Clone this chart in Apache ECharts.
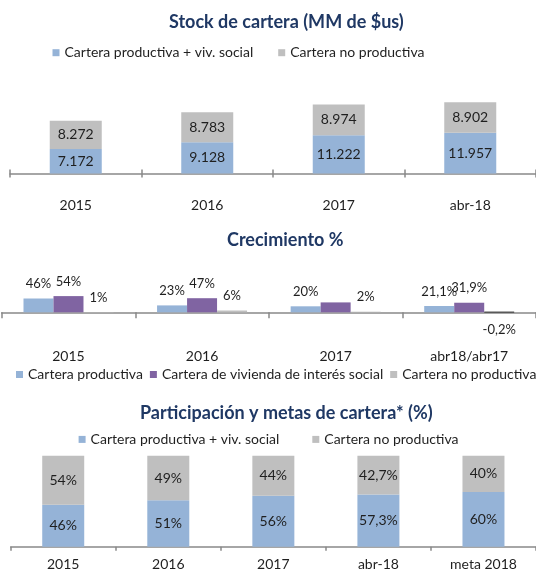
<!DOCTYPE html>
<html>
<head>
<meta charset="utf-8">
<script src="https://cdn.jsdelivr.net/npm/echarts@6/dist/echarts.min.js"></script>
<style>
  html, body { margin: 0; padding: 0; background: #fff; }
  .caja { position: absolute; left: 0; width: 536px; }
  #c1 { top: 0; height: 225px; }
  #c2 { top: 225px; height: 170px; }
  #c3 { top: 395px; height: 177px; }
</style>
</head>
<body>
<div id="c1" class="caja"></div>
<div id="c2" class="caja"></div>
<div id="c3" class="caja"></div>
<script>
// datos
const stockAnios = ['2015', '2016', '2017', 'abr-18'];
const stockProductiva = [7172, 9128, 11222, 11957];
const stockNoProductiva = [8272, 8783, 8974, 8902];

const crecAnios = ['2015', '2016', '2017', 'abr18/abr17'];
const crecProductiva = [46, 23, 20, 21.1];
const crecVivienda = [54, 47, 33, 31.9];
const crecNoProductiva = [1, 6, 2, -0.2];

const partAnios = ['2015', '2016', '2017', 'abr-18', 'meta 2018'];
const partProductiva = [46, 51, 56, 57.3, 60];
const partNoProductiva = [54, 49, 44, 42.7, 40];

const AZUL = '#95B3D7', GRIS = '#BFBFBF', MORADO = '#8064A2';
const TITULO = '#1F3864', TEXTO = '#1f1f1f', EJE = '#898989';
const FUENTE = 'Lato';

function miles(v) { return String(v).replace(/\B(?=(\d{3})+(?!\d))/g, '.'); }
function pct(v) { return String(v).replace('.', ',') + '%'; }

function titulo(text, left, top) {
  return {
    text: text, left: left, top: top, padding: 0,
    textStyle: { color: TITULO, fontFamily: FUENTE, fontSize: 18, fontWeight: 'bold' }
  };
}

function leyenda(left, top, gap) {
  return {
    left: left, top: top, width: 900, padding: 0, icon: 'rect',
    itemWidth: 7, itemHeight: 7, itemGap: gap,
    textStyle: { fontFamily: FUENTE, fontSize: 14, color: TEXTO }
  };
}

// eje principal con linea y etiquetas
function ejeX(data, margin, tickLen) {
  return {
    type: 'category', data: data, position: 'bottom',
    axisLine: { show: true, lineStyle: { color: EJE, width: 1.5 } },
    axisTick: { show: true, length: tickLen, lineStyle: { color: EJE, width: 1.5 } },
    axisLabel: { margin: margin, color: TEXTO, fontSize: 14, fontFamily: FUENTE }
  };
}

// eje duplicado solo para las marcas hacia dentro (marcas cruzadas)
function ejeMarcas(data, tickLen) {
  return {
    type: 'category', data: data, position: 'bottom',
    axisLine: { show: false, onZero: true },
    axisTick: { show: true, inside: true, length: tickLen, lineStyle: { color: EJE, width: 1.5 } },
    axisLabel: { show: false }
  };
}

// Stock de cartera
let chart1 = echarts.init(document.getElementById('c1'));
chart1.setOption({
  animation: false,
  title: titulo('Stock de cartera (MM de $us)', 169, 13),
  legend: leyenda(52.5, 45.7, 25),
  grid: { left: 10, right: -2, top: 71, bottom: 51.5 },
  xAxis: [ejeX(stockAnios, 25, 4), ejeMarcas(stockAnios, 4)],
  yAxis: { type: 'value', min: 0, max: 30000, show: false },
  series: [{
      name: 'Cartera productiva + viv. social',
      type: 'bar', stack: 'total', barWidth: 52,
      itemStyle: { color: AZUL },
      label: { show: true, position: 'inside', color: TEXTO, fontSize: 14, fontFamily: FUENTE,
        formatter: p => miles(p.value) },
      data: stockProductiva
    },
    {
      name: 'Cartera no productiva',
      type: 'bar', stack: 'total', barWidth: 52,
      itemStyle: { color: GRIS },
      label: { show: true, position: 'inside', color: TEXTO, fontSize: 14, fontFamily: FUENTE,
        formatter: p => miles(p.value) },
      data: stockNoProductiva
    }
  ]
});

// Crecimiento %
function barrasCrec(name, color, valores, ocultos) {
  return {
    name: name, type: 'bar', barWidth: 30, barGap: '0%',
    itemStyle: { color: color },
    label: { show: true, position: 'top', distance: 8, color: TEXTO, fontSize: 13, fontFamily: FUENTE,
      formatter: p => pct(p.value) },
    data: valores.map((v, i) => {
      let item = { value: v };
      if (ocultos.indexOf(i) >= 0) item.label = { show: false };
      if (v < 0) {
        item.label = { position: 'bottom', distance: 10 };
        item.itemStyle = { borderColor: '#595959', borderWidth: 1.5 };
      }
      return item;
    })
  };
}

let chart2 = echarts.init(document.getElementById('c2'));
chart2.setOption({
  animation: false,
  title: titulo('Crecimiento %', 227, 6),
  legend: leyenda(16, 142.5, 7),
  grid: { left: 1.7, right: -5, top: 57.3, bottom: 76.7 },
  xAxis: [ejeX(crecAnios, 31, 4), ejeMarcas(crecAnios, 3)],
  yAxis: { type: 'value', min: -20, max: 100, show: false },
  series: [
    barrasCrec('Cartera productiva', AZUL, crecProductiva, []),
    barrasCrec('Cartera de vivienda de interés social', MORADO, crecVivienda, [2]),
    barrasCrec('Cartera no productiva', GRIS, crecNoProductiva, [])
  ]
});

// Participacion y metas
let chart3 = echarts.init(document.getElementById('c3'));
chart3.setOption({
  animation: false,
  title: titulo('Participación y metas de cartera* (%)', 140, 9.5),
  legend: leyenda(78.6, 37.4, 33),
  grid: { left: 10.7, right: -9.2, top: 60.7, bottom: 25.3 },
  xAxis: ejeX(partAnios, 11, 4),
  yAxis: { type: 'value', min: 0, max: 100, show: false },
  series: [{
      name: 'Cartera productiva + viv. social',
      type: 'bar', stack: 'total', barWidth: 42,
      itemStyle: { color: AZUL },
      label: { show: true, position: 'inside', color: TEXTO, fontSize: 14, fontFamily: FUENTE,
        formatter: p => pct(p.value) },
      data: partProductiva
    },
    {
      name: 'Cartera no productiva',
      type: 'bar', stack: 'total', barWidth: 42,
      itemStyle: { color: GRIS },
      label: { show: true, position: 'inside', color: TEXTO, fontSize: 14, fontFamily: FUENTE,
        formatter: p => pct(p.value) },
      data: partNoProductiva
    }
  ]
});

window.onresize = function() { chart1.resize(); chart2.resize(); chart3.resize(); };
</script>
</body>
</html>
